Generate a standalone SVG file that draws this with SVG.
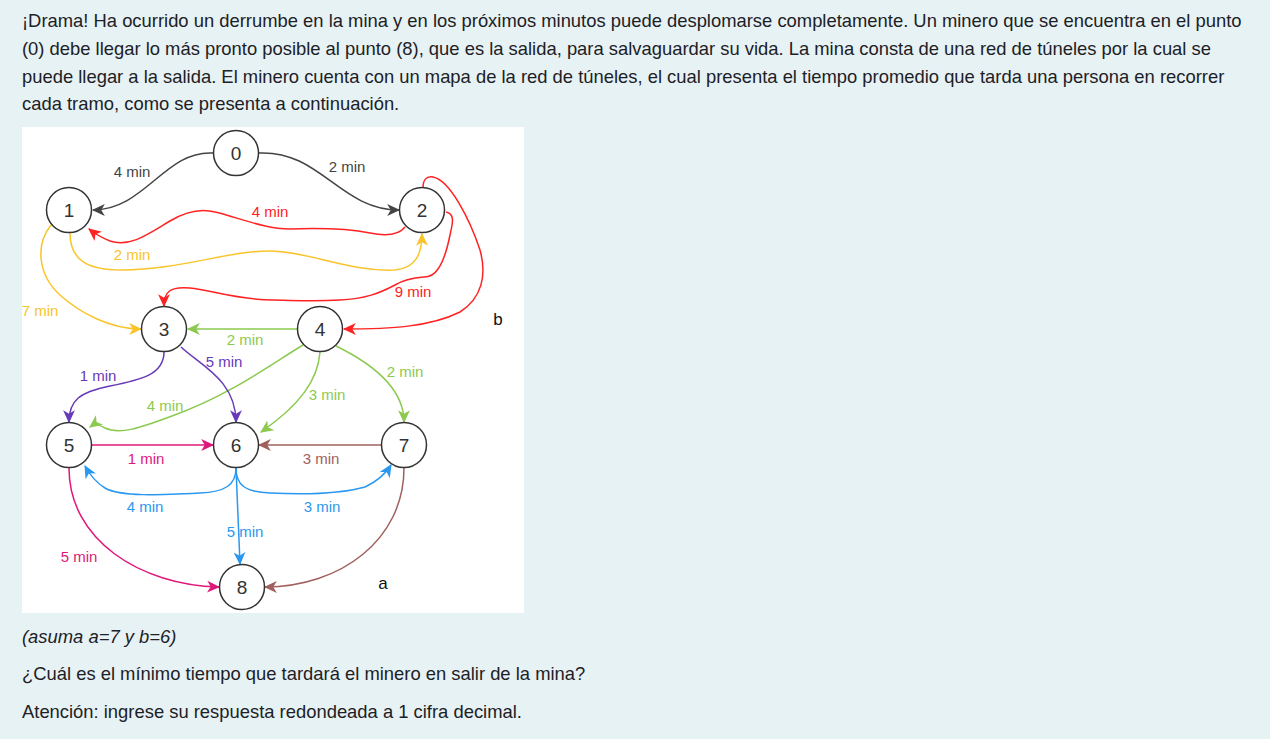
<svg xmlns="http://www.w3.org/2000/svg" width="1270" height="739" viewBox="0 0 1270 739">
<style>
.body{font-family:"Liberation Sans",Arial,sans-serif;font-size:18.4px;fill:#1d2125}
.it{font-style:italic}
.node circle{fill:#fff;stroke:#333;stroke-width:1.5}
.node text{font-family:"Liberation Sans",Arial,sans-serif;font-size:19px;fill:#333;text-anchor:middle;dominant-baseline:central}
.e{fill:none;stroke-width:1.5}
.lbl{font-family:"Liberation Sans",Arial,sans-serif;font-size:15px;text-anchor:middle;dominant-baseline:central}
.k{stroke:#444}.r{stroke:#f22}.y{stroke:#f9c42a}.g{stroke:#8bc94f}.p{stroke:#673ab7}.m{stroke:#e0177a}.b{stroke:#a0605e}.u{stroke:#2a98f0}
</style>
<defs>
<marker id="ak" viewBox="0 0 11 10" refX="10" refY="5" markerWidth="13" markerHeight="12" markerUnits="userSpaceOnUse" orient="auto"><path d="M0,0 L11,5 L0,10 L3,5 Z" fill="#444"/></marker>
<marker id="ar" viewBox="0 0 11 10" refX="10" refY="5" markerWidth="13" markerHeight="12" markerUnits="userSpaceOnUse" orient="auto"><path d="M0,0 L11,5 L0,10 L3,5 Z" fill="#f22"/></marker>
<marker id="ay" viewBox="0 0 11 10" refX="10" refY="5" markerWidth="13" markerHeight="12" markerUnits="userSpaceOnUse" orient="auto"><path d="M0,0 L11,5 L0,10 L3,5 Z" fill="#f9c42a"/></marker>
<marker id="ag" viewBox="0 0 11 10" refX="10" refY="5" markerWidth="13" markerHeight="12" markerUnits="userSpaceOnUse" orient="auto"><path d="M0,0 L11,5 L0,10 L3,5 Z" fill="#8bc94f"/></marker>
<marker id="ap" viewBox="0 0 11 10" refX="10" refY="5" markerWidth="13" markerHeight="12" markerUnits="userSpaceOnUse" orient="auto"><path d="M0,0 L11,5 L0,10 L3,5 Z" fill="#673ab7"/></marker>
<marker id="am" viewBox="0 0 11 10" refX="10" refY="5" markerWidth="13" markerHeight="12" markerUnits="userSpaceOnUse" orient="auto"><path d="M0,0 L11,5 L0,10 L3,5 Z" fill="#e0177a"/></marker>
<marker id="ab" viewBox="0 0 11 10" refX="10" refY="5" markerWidth="13" markerHeight="12" markerUnits="userSpaceOnUse" orient="auto"><path d="M0,0 L11,5 L0,10 L3,5 Z" fill="#a0605e"/></marker>
<marker id="au" viewBox="0 0 11 10" refX="10" refY="5" markerWidth="13" markerHeight="12" markerUnits="userSpaceOnUse" orient="auto"><path d="M0,0 L11,5 L0,10 L3,5 Z" fill="#2a98f0"/></marker>
</defs>
<rect x="0" y="0" width="1270" height="739" fill="#e7f2f5"/>
<g id="intro" class="body">
<text x="22" y="27">¡Drama! Ha ocurrido un derrumbe en la mina y en los próximos minutos puede desplomarse completamente. Un minero que se encuentra en el punto</text>
<text x="22" y="55">(0) debe llegar lo más pronto posible al punto (8), que es la salida, para salvaguardar su vida. La mina consta de una red de túneles por la cual se</text>
<text x="22" y="83">puede llegar a la salida. El minero cuenta con un mapa de la red de túneles, el cual presenta el tiempo promedio que tarda una persona en recorrer</text>
<text x="22" y="110">cada tramo, como se presenta a continuación.</text>
</g>
<rect x="22" y="127" width="502" height="486" fill="#fff"/>
<g id="connectors">
<path class="e k" d="M213,153 C165,150 145,210 93,210" marker-end="url(#ak)"/>
<path class="e k" d="M259,153 C320,150 340,210 399,210" marker-end="url(#ak)"/>
<path class="e r" d="M405,227 C398,236 385,236 370,233 C350,229 320,228 290,229 C265,229 240,218 215,212 C200,208 185,212 170,221 C150,233 130,248 110,241 C100,237 94,233 89,229" marker-end="url(#ar)"/>
<path class="e y" d="M70,233 C70,262 90,270 122,270 C180,270 230,250 272,251 C310,252 350,272 395,270 C415,268 422,255 422,234" marker-end="url(#ay)"/>
<path class="e y" d="M51,225 C35,245 38,275 60,295 C80,313 110,329 141,329" marker-end="url(#ay)"/>
<path class="e r" d="M446,212 C456,214 452,225 450,235 C447,250 443,262 438,269 C434,275 430,277 424,277 C412,278 403,280 395,285 C380,293 365,299 340,300 C310,302 290,300 272,300 C240,300 210,290 190,288 C170,286 164,292 164,306" marker-end="url(#ar)"/>
<path class="e r" d="M423,188 C423,180 426,176 433,177 C450,180 470,220 480,250 C487,275 482,298 460,312 C430,327 390,329 344,329" marker-end="url(#ar)"/>
<path class="e g" d="M297,329 L188,329" marker-end="url(#ag)"/>
<path class="e g" d="M303,345 C270,365 230,395 172,416 C140,428 120,435 105,428 C97,424 94,424 90,427" marker-end="url(#ag)"/>
<path class="e g" d="M320,352 C318,380 300,405 261,432" marker-end="url(#ag)"/>
<path class="e g" d="M336,346 C375,365 404,390 404,422" marker-end="url(#ag)"/>
<path class="e p" d="M164,352 C164,375 140,380 110,386 C80,392 69,400 69,422" marker-end="url(#ap)"/>
<path class="e p" d="M181,347 C200,365 236,380 236,422" marker-end="url(#ap)"/>
<path class="e m" d="M92,445 L213,445" marker-end="url(#am)"/>
<path class="e b" d="M381,445 L259,445" marker-end="url(#ab)"/>
<path class="e u" d="M236,468 C236,485 225,492 200,493 C160,495 120,497 105,488 C95,482 90,475 85,466" marker-end="url(#au)"/>
<path class="e u" d="M236,468 C236,485 245,492 270,493 C310,495 340,494 365,487 C378,481 386,473 391,465" marker-end="url(#au)"/>
<path class="e u" d="M236,468 L240,564" marker-end="url(#au)"/>
<path class="e m" d="M69,468 C69,540 140,585 219,587" marker-end="url(#am)"/>
<path class="e b" d="M404,468 C404,540 340,587 265,587" marker-end="url(#ab)"/>
</g>
<g id="edge-labels" class="lbl">
<text x="132" y="171" fill="#444">4 min</text>
<text x="347" y="166" fill="#444">2 min</text>
<text x="270" y="211" fill="#f22">4 min</text>
<text x="132" y="254" fill="#f9c42a">2 min</text>
<text x="413" y="291" fill="#f22">9 min</text>
<text x="40" y="310" fill="#f9c42a">7 min</text>
<text x="245" y="339" fill="#8bc94f">2 min</text>
<text x="224" y="361" fill="#673ab7">5 min</text>
<text x="98" y="375" fill="#673ab7">1 min</text>
<text x="165" y="405" fill="#8bc94f">4 min</text>
<text x="327" y="394" fill="#8bc94f">3 min</text>
<text x="405" y="371" fill="#8bc94f">2 min</text>
<text x="146" y="458" fill="#e0177a">1 min</text>
<text x="321" y="458" fill="#a0605e">3 min</text>
<text x="145" y="506" fill="#2a98f0">4 min</text>
<text x="322" y="506" fill="#2a98f0">3 min</text>
<text x="245" y="531" fill="#2a98f0">5 min</text>
<text x="79" y="556" fill="#e0177a">5 min</text>
<text x="498" y="319" fill="#111" style="font-size:17px">b</text>
<text x="383" y="583" fill="#111" style="font-size:17px">a</text>
</g>
<g id="n0" class="node"><circle cx="236" cy="153" r="22.5"/><text x="236" y="153">0</text></g>
<g id="n1" class="node"><circle cx="69" cy="210" r="22.5"/><text x="69" y="210">1</text></g>
<g id="n2" class="node"><circle cx="422" cy="210" r="22.5"/><text x="422" y="210">2</text></g>
<g id="n3" class="node"><circle cx="164" cy="329" r="22.5"/><text x="164" y="329">3</text></g>
<g id="n4" class="node"><circle cx="320" cy="329" r="22.5"/><text x="320" y="329">4</text></g>
<g id="n5" class="node"><circle cx="69" cy="445" r="22.5"/><text x="69" y="445">5</text></g>
<g id="n6" class="node"><circle cx="236" cy="445" r="22.5"/><text x="236" y="445">6</text></g>
<g id="n7" class="node"><circle cx="404" cy="445" r="22.5"/><text x="404" y="445">7</text></g>
<g id="n8" class="node"><circle cx="242" cy="587" r="22.5"/><text x="242" y="587">8</text></g>
<g id="question" class="body">
<text x="22" y="643" class="it">(asuma a=7 y b=6)</text>
<text x="22" y="680">¿Cuál es el mínimo tiempo que tardará el minero en salir de la mina?</text>
<text x="22" y="718">Atención: ingrese su respuesta redondeada a 1 cifra decimal.</text>
</g>
</svg>
